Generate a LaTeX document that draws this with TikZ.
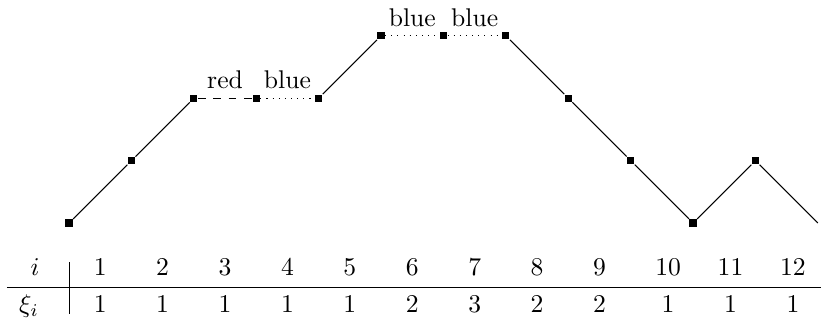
\documentclass[tikz,border=0pt]{standalone}
\usetikzlibrary{positioning}

\begin{document}
\begin{tikzpicture}[
  x=24.375pt, y=24.375pt,
  vertex/.style={fill, inner sep=0pt, minimum size=2.8pt},
  colour/.style={above, inner sep=3.3pt},
  entry/.style={anchor=base}
]
\useasboundingbox (-1.106,-1.554) rectangle (12.05,3.574);

% the path
\foreach \h [count=\k] in {0,1,2,2,2,3,3,3,2,1,0,1}
  \node[vertex] (p\k) at (\k-1,\h) {};
\coordinate (p13) at (12,0);

\draw (p1) -- (p2) -- (p3);
\draw[dashed] (p3) -- node[colour] {red} (p4);
\draw[dotted] (p4) -- node[colour] {blue} (p5);
\draw (p5) -- (p6);
\draw[dotted] (p6) -- node[colour] {blue} (p7);
\draw[dotted] (p7) -- node[colour] {blue} (p8);
\draw (p8) -- (p9) -- (p10) -- (p11) -- (p12) -- (p13);

% the table
\node[entry] (ihead) at (-0.545,-0.833) {$i$};
\node[entry] (xihead) at (-0.64,-1.434) {$\xi_i$};
\foreach \x/\v [count=\k] in {0.5/1,1.5/1,2.5/1,3.5/1,4.5/1,5.5/2,6.5/3,7.5/2,8.5/2,9.6/1,10.6/1,11.6/1} {
  \node[entry] (i\k) at (\x,-0.833) {$\k$};
  \node[entry] (xi\k) at (\x,-1.434) {$\v$};
}
\coordinate (hleft) at (-0.994,-1.026);
\coordinate (hright) at (12.05,-1.026);
\coordinate (vtop) at (0,-0.625);
\coordinate (vbot) at (0,-1.458);
\draw (hleft) -- (hright);
\draw (vtop) -- (vbot);
\end{tikzpicture}
\end{document}
